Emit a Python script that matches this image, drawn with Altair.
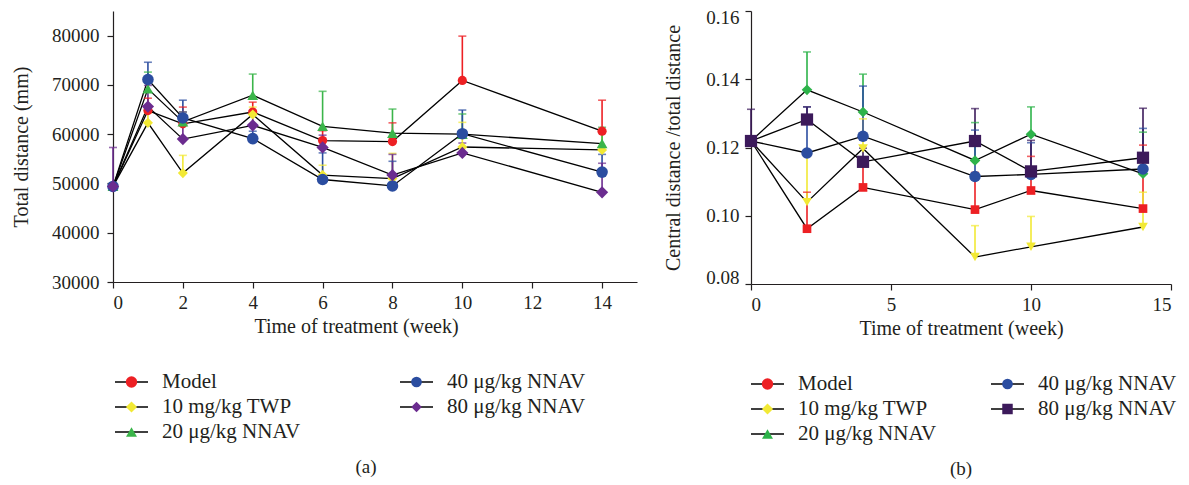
import altair as alt
import pandas as pd

FONT = "Liberation Serif"

series = ["Model", "10 mg/kg TWP", "20 μg/kg NNAV", "40 μg/kg NNAV", "80 μg/kg NNAV"]

# ---------------- Panel (a): total distance ----------------
weeks_a = [0, 1, 2, 4, 6, 8, 10, 14]
model_a = [49400, 64800, 62100, 64500, 58700, 58500, 70900, 60600]
model_a_err = [600, 2500, 3400, 2000, 2000, 3800, 9000, 6300]
twp_a = [49400, 62300, 52100, 64000, 51700, 51000, 57400, 56800]
twp_a_err = [600, 2000, 3600, 1500, 2000, 5100, 5000, 4000]
n20_a = [49400, 69200, 62500, 67900, 61600, 60200, 60000, 58100]
n20_a_err = [600, 3400, 2000, 4300, 7100, 4900, 4100, 3300]
n40_a = [49400, 71100, 63300, 59100, 50800, 49500, 60100, 52300]
n40_a_err = [600, 3500, 3600, 1500, 5400, 5000, 4800, 3600]
n80_a = [49400, 65600, 59000, 61800, 57300, 51700, 56200, 48200]
n80_a_err = [7900, 4300, 5500, 3000, 2500, 4200, 2000, 5900]

# ---------------- Panel (b): central / total distance ----------------
weeks_b = [0, 2, 4, 8, 10, 14]
model_b = [0.1219, 0.0962, 0.1083, 0.1018, 0.1074, 0.1021]
model_b_err = [0.0010, 0.0107, 0.0077, 0.0109, 0.0100, 0.0186]
twp_b = [0.1219, 0.1040, 0.1197, 0.0879, 0.0909, 0.0967]
twp_b_err = [0.0010, 0.0140, 0.0087, 0.0092, 0.0089, 0.0102]
n20_b = [0.1219, 0.1369, 0.1304, 0.1162, 0.1239, 0.1123]
n20_b_err = [0.0010, 0.0111, 0.0111, 0.0111, 0.0080, 0.0122]
n40_b = [0.1219, 0.1184, 0.1233, 0.1115, 0.1121, 0.1137]
n40_b_err = [0.0010, 0.0135, 0.0147, 0.0136, 0.0093, 0.0119]
n80_b = [0.1219, 0.1282, 0.1158, 0.1219, 0.1130, 0.1170]
n80_b_err = [0.0093, 0.0037, 0.0040, 0.0095, 0.0091, 0.0145]

legend_col = [0, 0, 0, 1, 1]
legend_row = [0, 1, 2, 0, 1]

# ---------------- styles ----------------
colors_a = ["#ED2024", "#F2E935", "#3BB54A", "#2B4DA0", "#6B2C8F"]
colors_b = ["#ED2024", "#F2E935", "#2DB34A", "#2B4DA0", "#3C1A5B"]
shapes_a = ["circle", "diamond", "triangle-up", "circle", "diamond"]
sizes_a = [85, 150, 190, 85, 150]
shapes_b_plot = ["square", "triangle-down", "diamond", "circle", "square"]
sizes_b_plot = [75, 150, 150, 85, 80]
shapes_b_leg = ["circle", "diamond", "triangle-up", "circle", "square"]
sizes_b_leg = [130, 110, 230, 130, 55]
sizes_a_leg = [130, 110, 230, 130, 140]


def long_df(weeks, vals, errs):
    rows = []
    for s, v, e in zip(series, vals, errs):
        for w, vv, ee in zip(weeks, v, e):
            rows.append({"series": s, "week": w, "value": vv, "top": vv + ee,
                         "order": series.index(s)})
    return pd.DataFrame(rows)


df_a = long_df(weeks_a, [model_a, twp_a, n20_a, n40_a, n80_a],
               [model_a_err, twp_a_err, n20_a_err, n40_a_err, n80_a_err])
df_b = long_df(weeks_b, [model_b, twp_b, n20_b, n40_b, n80_b],
               [model_b_err, twp_b_err, n20_b_err, n40_b_err, n80_b_err])
leg_df = pd.DataFrame({"series": series, "col": legend_col, "row": legend_row})


def panel(df, w, h, x_dom, x_ticks, y_dom, y_ticks, y_fmt, y_title,
          colors, p_shapes, p_sizes, l_shapes, l_sizes, leg_range, caption,
          title_pad, label_pad, cap_dx, x_title_x, flush):
    xs = alt.Scale(domain=x_dom, nice=False, zero=False)
    ys = alt.Scale(domain=y_dom, nice=False, zero=False)
    col = alt.Color("series:N", scale=alt.Scale(domain=series, range=colors), legend=None)
    xa = dict(values=x_ticks, title="Time of treatment (week)", format="d")
    if x_title_x is not None:
        xa["titleX"] = x_title_x
    x_axis = alt.Axis(**xa)
    ya = dict(values=y_ticks, format=y_fmt, title=y_title, titlePadding=title_pad,
              labelPadding=label_pad)
    if flush:
        ya["labelFlush"] = True
        ya["labelFlushOffset"] = 3
    y_axis = alt.Axis(**ya)
    X = alt.X("week:Q", scale=xs, axis=x_axis)
    Y = alt.Y("value:Q", scale=ys, axis=y_axis)

    base = alt.Chart(df)
    lines = base.mark_line(color="black", strokeWidth=1.3).encode(
        x=X, y=Y, detail="series:N", order="week:Q")
    err = base.mark_rule(strokeWidth=1.6).encode(
        x=alt.X("week:Q", scale=xs), y=alt.Y("value:Q", scale=ys), y2="top:Q", color=col)
    caps = base.mark_tick(orient="horizontal", size=8, thickness=1.6).encode(
        x=alt.X("week:Q", scale=xs), y=alt.Y("top:Q", scale=ys), color=col)
    pts = base.mark_point(filled=True, opacity=1).encode(
        x=alt.X("week:Q", scale=xs), y=alt.Y("value:Q", scale=ys), color=col,
        shape=alt.Shape("series:N", scale=alt.Scale(domain=series, range=p_shapes), legend=None),
        size=alt.Size("series:N", scale=alt.Scale(domain=series, range=p_sizes), legend=None),
        order="order:Q")
    plot = alt.layer(lines, err, caps, pts)

    lx = alt.X("col:Q", scale=alt.Scale(domain=[0, 1], range=leg_range), axis=None)
    ly = alt.Y("row:Q", scale=alt.Scale(domain=[0, 2], range=[h + 100, h + 150]), axis=None)
    lbase = alt.Chart(leg_df)
    lrule = lbase.mark_rule(color="black", strokeWidth=1.3, x2Offset=33).encode(
        x=lx, x2="col:Q", y=ly)
    lpts = lbase.mark_point(filled=True, opacity=1, xOffset=16.5).encode(
        x=lx, y=ly, color=col,
        shape=alt.Shape("series:N", scale=alt.Scale(domain=series, range=l_shapes), legend=None),
        size=alt.Size("series:N", scale=alt.Scale(domain=series, range=l_sizes), legend=None))
    ltxt = lbase.mark_text(align="left", baseline="middle", xOffset=47, fontSize=21,
                           font=FONT, color="#231F20").encode(x=lx, y=ly, text="series:N")
    legend = alt.layer(lrule, lpts, ltxt)

    return alt.layer(plot, legend).resolve_scale(
        x="independent", y="independent", shape="independent", size="independent"
    ).properties(
        width=w, height=h,
        title=alt.TitleParams(caption, orient="bottom", fontSize=19, font=FONT,
                              fontWeight="normal", offset=16, dx=cap_dx, color="#231F20"))


pa = panel(df_a, 524, 271, [0, 15], [0, 2, 4, 6, 8, 10, 12, 14], [30000, 85000],
           [30000, 40000, 50000, 60000, 70000, 80000], "d", "Total distance (mm)",
           colors_a, shapes_a, sizes_a, shapes_a, sizes_a_leg, [2, 287], "(a)", 20, 8, -9,
           243, False)
pb = panel(df_b, 420, 273, [0, 15], [0, 5, 10, 15], [0.08, 0.16],
           [0.08, 0.10, 0.12, 0.14, 0.16], ".2f", "Central distance /total distance",
           colors_b, shapes_b_plot, sizes_b_plot, shapes_b_leg, sizes_b_leg, [0, 240], "(b)", 22, 6, 0,
           None, True)

chart = alt.hconcat(pa, pb, spacing=26).resolve_scale(
    color="independent", shape="independent", size="independent"
).properties(
    padding={"left": 3, "top": 0, "right": 0, "bottom": 0}
).configure_view(stroke=None).configure_axis(
    labelFont=FONT, titleFont=FONT, labelFontSize=19, titleFontSize=20,
    labelColor="#231F20", titleColor="#231F20", titleFontWeight="normal",
    domainColor="#231F20", tickColor="#231F20", grid=False, tickSize=6,
    labelPadding=5, domainWidth=1.2, tickWidth=1.2
)

chart.save("out.html", embed_options={"renderer": "svg", "actions": False})
